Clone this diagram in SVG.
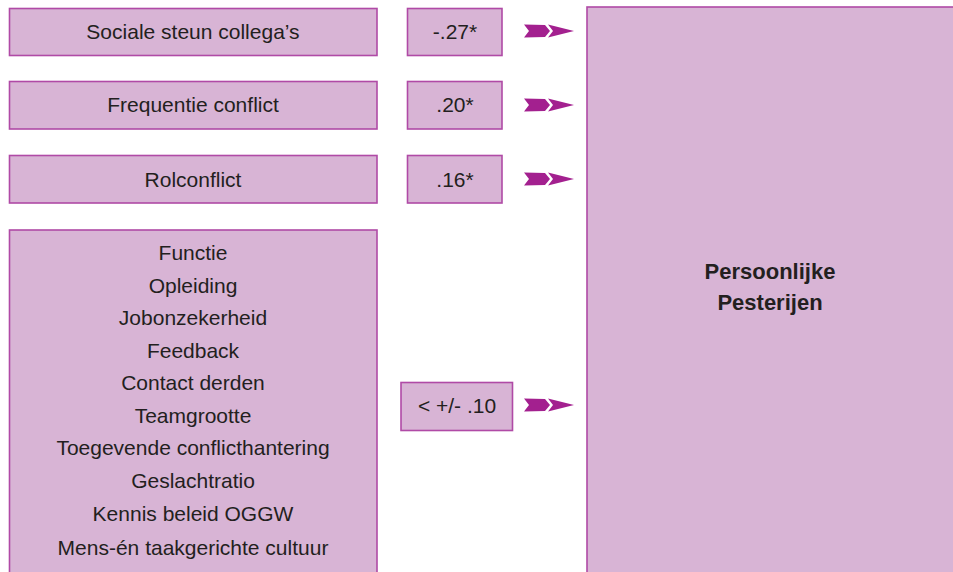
<svg xmlns="http://www.w3.org/2000/svg" width="953" height="572" viewBox="0 0 953 572">
<style>
.box{fill:#D8B4D5;stroke:#B04AA6;stroke-width:1.6}
.t{font-family:"Liberation Sans",Arial,sans-serif;font-size:21px;fill:#231F20;text-anchor:middle}
.b{font-weight:bold;font-size:22px}
.arr{fill:#A3208F}
</style>
<defs>
<path id="arrow" d="M0,-6.5 L21,-6 L26,0 L21,6 L0,6.5 L5,0 Z M24,-6.5 L50,0 L24,6.5 L29,0 Z"/>
</defs>
<rect width="953" height="572" fill="#fff"/>
<g id="node-sociale"><rect class="box" x="9.5" y="8.5" width="367.5" height="47"/><text class="t" x="193" y="39">Sociale steun collega’s</text></g>
<g id="node-frequentie"><rect class="box" x="9.5" y="81.5" width="367.5" height="47.5"/><text class="t" x="193" y="112">Frequentie conflict</text></g>
<g id="node-rolconflict"><rect class="box" x="9.5" y="155.5" width="367.5" height="47.5"/><text class="t" x="193" y="187">Rolconflict</text></g>
<g id="node-overig"><rect class="box" x="9.5" y="230" width="367.5" height="350"/>
<text class="t" x="193" y="260">Functie</text>
<text class="t" x="193" y="293">Opleiding</text>
<text class="t" x="193" y="325">Jobonzekerheid</text>
<text class="t" x="193" y="358">Feedback</text>
<text class="t" x="193" y="390">Contact derden</text>
<text class="t" x="193" y="423">Teamgrootte</text>
<text class="t" x="193" y="455">Toegevende conflicthantering</text>
<text class="t" x="193" y="488">Geslachtratio</text>
<text class="t" x="193" y="521">Kennis beleid OGGW</text>
<text class="t" x="193" y="555">Mens-én taakgerichte cultuur</text>
</g>
<g id="coef-1"><rect class="box" x="407.5" y="8.5" width="94.5" height="47"/><text class="t" x="455" y="39">-.27*</text></g>
<g id="coef-2"><rect class="box" x="407.5" y="81.5" width="94.5" height="47.5"/><text class="t" x="455" y="112">.20*</text></g>
<g id="coef-3"><rect class="box" x="407.5" y="155.5" width="94.5" height="47.5"/><text class="t" x="455" y="187">.16*</text></g>
<g id="coef-4"><rect class="box" x="401" y="382.5" width="111.5" height="48"/><text class="t" x="457" y="413">&lt; +/- .10</text></g>
<g id="node-pesterijen"><rect class="box" x="587" y="7" width="380" height="580"/>
<text class="t b" x="770" y="279">Persoonlijke</text>
<text class="t b" x="770" y="310">Pesterijen</text>
</g>
<g id="connectors">
<use href="#arrow" class="arr" x="524" y="31"/>
<use href="#arrow" class="arr" x="524" y="105"/>
<use href="#arrow" class="arr" x="524" y="179"/>
<use href="#arrow" class="arr" x="524" y="405"/>
</g>
</svg>
